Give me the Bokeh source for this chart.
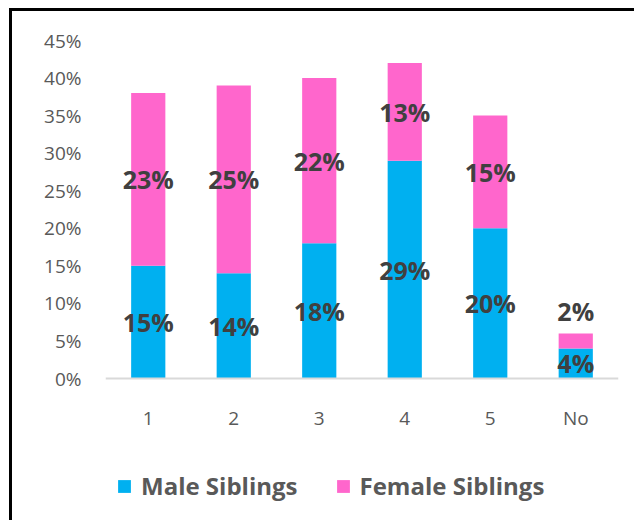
from bokeh.plotting import figure
from bokeh.models import ColumnDataSource, FactorRange, FixedTicker, PrintfTickFormatter, Legend, LegendItem, Range1d
from bokeh.core.properties import value
from bokeh.embed import file_html
from bokeh.resources import INLINE

categories = ["1", "2", "3", "4", "5", "No"]
male = [15, 14, 18, 29, 20, 4]
female = [23, 25, 22, 13, 15, 2]
y_ticks = [0, 5, 10, 15, 20, 25, 30, 35, 40, 45]

MALE_C = "#00B0F0"
FEMALE_C = "#FF66CC"
FONT = "Open Sans"

# layout (pixels)
W, H = 625, 512
TOP, LEFT, RIGHT = 29, 93, 19
AXIS_Y = 367                       # canvas y of the 0% line
Y_MAX = 45
px_per_pct = (AXIS_Y - TOP) / Y_MAX
y_min = -(H - AXIS_Y) / px_per_pct  # frame extends down to hold the legend

totals = [m + f for m, f in zip(male, female)]
male_lbl_y = [m / 2 for m in male]
female_lbl_y = [m + f / 2 for m, f in zip(male, female)]
female_off = [0 if f >= 3 else -(f / 2) * px_per_pct - 22 for f in female]

src = ColumnDataSource(dict(
    cat=categories, male=male, female=female, total=totals,
    male_txt=[f"{v}%" for v in male], female_txt=[f"{v}%" for v in female],
    male_y=male_lbl_y, female_y=female_lbl_y, female_off=female_off,
))

p = figure(x_range=FactorRange(*categories, range_padding=0), y_range=Range1d(y_min, Y_MAX),
           width=W, height=H, output_backend="svg", toolbar_location=None,
           min_border_left=LEFT, min_border_right=RIGHT, min_border_top=TOP, min_border_bottom=0)
p.outline_line_color = None
p.xgrid.visible = False
p.ygrid.visible = False
p.styles = {"margin-left": "9px", "margin-top": "8px",
            "border-left": "3px solid black", "border-top": "3px solid black"}

r_m = p.vbar(x="cat", bottom=0, top="male", width=0.4, source=src, color=MALE_C, line_color=None)
r_f = p.vbar(x="cat", bottom="male", top="total", width=0.4, source=src, color=FEMALE_C, line_color=None)

p.text(x="cat", y="male_y", text="male_txt", source=src, text_align="center", text_baseline="middle",
       text_font=value(FONT), text_font_style="bold", text_font_size="25px", text_color="#404040")
p.text(x="cat", y="female_y", text="female_txt", source=src, text_align="center", text_baseline="middle",
       y_offset="female_off",
       text_font=value(FONT), text_font_style="bold", text_font_size="25px", text_color="#404040")

p.yaxis.ticker = FixedTicker(ticks=y_ticks)
p.yaxis.formatter = PrintfTickFormatter(format="%d%%")
p.yaxis.axis_line_color = None
p.yaxis.major_tick_line_color = None
p.yaxis.minor_tick_line_color = None
p.yaxis.major_tick_out = 0
p.yaxis.major_label_standoff = 24
p.yaxis.major_label_text_font = FONT
p.yaxis.major_label_text_font_size = "19px"
p.yaxis.major_label_text_color = "#595959"

p.xaxis.fixed_location = 0
p.xaxis.axis_line_color = "#D9D9D9"
p.xaxis.axis_line_width = 2
p.xaxis.major_tick_line_color = None
p.xaxis.minor_tick_line_color = None
p.xaxis.major_tick_out = 0
p.xaxis.major_tick_in = 0
p.xaxis.major_label_standoff = 26
p.xaxis.major_label_text_font = FONT
p.xaxis.major_label_text_font_size = "19px"
p.xaxis.major_label_text_color = "#595959"

legend = Legend(items=[LegendItem(label="Male Siblings", renderers=[r_m]),
                       LegendItem(label="Female Siblings", renderers=[r_f])],
                orientation="horizontal", location=(11, 21),
                label_text_font=FONT, label_text_font_style="bold", label_text_font_size="24px",
                label_text_color="#595959", glyph_width=16, glyph_height=16, label_standoff=9,
                spacing=37, border_line_color=None, background_fill_alpha=0, margin=0, padding=0)
p.add_layout(legend)

open("out.html", "w").write(file_html(p, INLINE))
